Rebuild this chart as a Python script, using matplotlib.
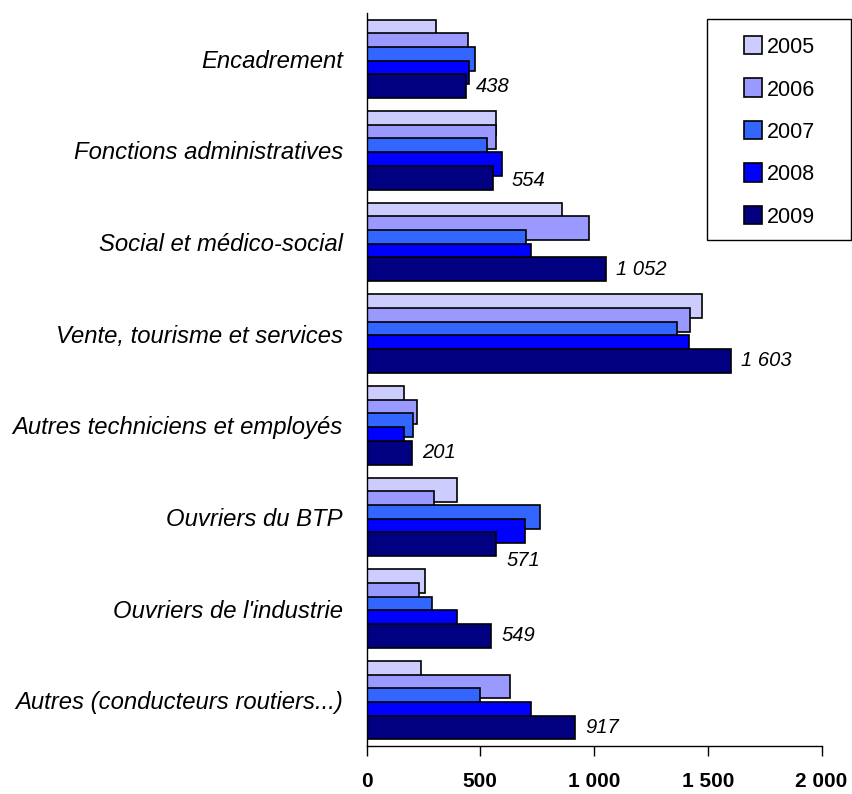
import matplotlib
matplotlib.use('Agg')
import matplotlib.pyplot as plt
from matplotlib import font_manager
from matplotlib.patches import Rectangle
import numpy as np

categories = [
    'Encadrement',
    'Fonctions administratives',
    'Social et médico-social',
    'Vente, tourisme et services',
    'Autres techniciens et employés',
    'Ouvriers du BTP',
    "Ouvriers de l'industrie",
    'Autres (conducteurs routiers...)',
]
years = ['2005', '2006', '2007', '2008', '2009']
v2005 = [304, 571, 860, 1474, 163, 396, 257, 239]
v2006 = [448, 571, 977, 1424, 223, 296, 230, 629]
v2007 = [475, 530, 701, 1366, 205, 762, 289, 497]
v2008 = [449, 596, 721, 1416, 165, 696, 396, 721]
v2009 = [438, 554, 1052, 1603, 201, 571, 549, 917]
colors = ['#CCCCFF', '#9999FF', '#3366FF', '#0000FF', '#000080']

names = {f.name for f in font_manager.fontManager.ttflist}
narrow = 'Liberation Sans Narrow' if 'Liberation Sans Narrow' in names else 'Liberation Sans'
base = 'Liberation Sans'
narrow_ok = narrow != base

fig = plt.figure(figsize=(8.52, 7.94), dpi=100)
W, H = 852, 794
ax = fig.add_axes([366.5 / W, 48 / H, 455 / W, 733 / H])

series = [v2005, v2006, v2007, v2008, v2009]
y = np.arange(len(categories))
step, bh = 0.149, 0.261
for j, vals in enumerate(series):
    ax.barh(y + (j - 2) * step, vals, height=bh, color=colors[j],
            edgecolor='black', linewidth=1.2, label=years[j])

# étiquettes 2009
nudge = {1: (19, -3), 5: (10, -16)}
for i, v in enumerate(v2009):
    dx, dy = nudge.get(i, (10, 0))
    ax.annotate(f'{v:,}'.replace(',', ' '), xy=(v, y[i] + 2 * step),
                xytext=(dx * 0.72, dy * 0.72), textcoords='offset points',
                ha='left', va='center', style='italic', family=narrow,
                fontsize=16 if narrow_ok else 14.5)

ax.set_ylim(len(categories) - 0.5, -0.5)
ax.set_xlim(0, 2000)
ax.set_xticks([0, 500, 1000, 1500, 2000])
ax.set_xticklabels([f'{t:,}'.replace(',', ' ') for t in [0, 500, 1000, 1500, 2000]],
                   family=narrow, fontweight='bold',
                   fontsize=18 if narrow_ok else 15)
ax.tick_params(axis='x', length=7, width=1, pad=12, direction='out')
ax.set_yticks(y)
ax.set_yticklabels(categories, family=base, style='italic', fontsize=17.2)
ax.tick_params(axis='y', length=0, pad=17)
for s in ['top', 'right']:
    ax.spines[s].set_visible(False)
for s in ['left', 'bottom']:
    ax.spines[s].set_linewidth(1)

# légende
fig.patches.append(Rectangle((707 / W, 1 - 240 / H), 144 / W, 221 / H,
                             transform=fig.transFigure, fill=False,
                             edgecolor='black', linewidth=1))
for j, yr in enumerate(years):
    yc = 45 + j * 42.5
    fig.patches.append(Rectangle((744 / W, 1 - (yc + 9) / H), 18 / W, 18 / H,
                                 transform=fig.transFigure, facecolor=colors[j],
                                 edgecolor='black', linewidth=1.2))
    fig.text(767 / W, 1 - yc / H, yr, ha='left', va='center_baseline',
             family=base, fontsize=15.5)

plt.savefig('out.png', dpi=100)
